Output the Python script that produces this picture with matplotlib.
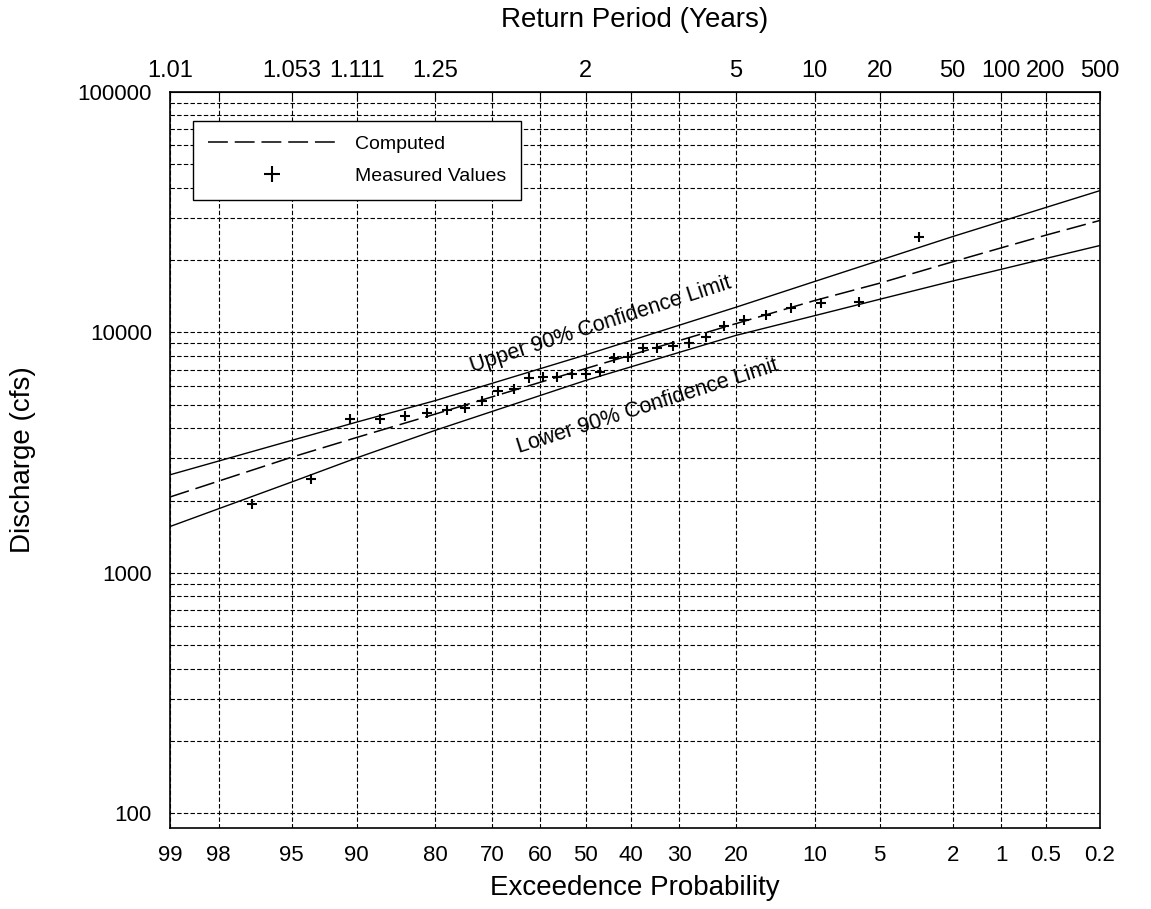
import matplotlib
matplotlib.use('Agg')
import matplotlib.pyplot as plt
import numpy as np
from statistics import NormalDist

plt.rcParams['font.family'] = ['Liberation Sans', 'DejaVu Sans']

# %% data
tick_exc = [99, 98, 95, 90, 80, 70, 60, 50, 40, 30, 20, 10, 5, 2, 1, 0.5, 0.2]
tick_labels = ['99', '98', '95', '90', '80', '70', '60', '50', '40', '30', '20',
               '10', '5', '2', '1', '0.5', '0.2']
period_labels = ['1.01', '', '1.053', '1.111', '1.25', '', '', '2', '', '', '5',
                 '10', '20', '50', '100', '200', '500']

curve_exc = [99, 95, 90, 80, 50, 20, 10, 5, 2, 1, 0.5, 0.2]
computed = [2070, 3030, 3660, 4580, 7080, 10890, 13580, 16030, 19680, 22500, 25400, 29240]
upper = [2560, 3560, 4240, 5210, 8070, 12740, 16300, 19950, 25050, 28970, 33110, 38900]
lower = [1560, 2390, 3010, 3920, 6320, 9730, 11750, 13740, 16370, 18320, 20320, 23000]

meas_exc = [96.9, 93.8, 90.6, 87.5, 84.4, 81.3, 78.1, 75.0, 71.9, 68.8, 65.6, 62.5,
            59.4, 56.3, 53.1, 50.0, 46.9, 43.8, 40.6, 37.5, 34.4, 31.3, 28.1, 25.0,
            21.9, 18.8, 15.6, 12.5, 9.4, 6.3, 3.1]
meas_q = [1930, 2470, 4350, 4380, 4480, 4640, 4780, 4830, 5170, 5690, 5800, 6440,
          6500, 6500, 6690, 6690, 6880, 7870, 7940, 8580, 8660, 8750, 9000, 9620,
          10690, 11320, 11770, 12700, 13200, 13330, 25050]

# %% probability scale: exceedance % -> standard normal quantile
nd = NormalDist()
def z(p):
    return np.array([nd.inv_cdf(1 - v / 100.0) for v in np.atleast_1d(p)])

# %% plot
fig = plt.figure(figsize=(11.51, 9.09), dpi=100)
ax = fig.add_axes([170/1151, 1-828/909, 930/1151, 736/909])

grid_kw = dict(color='black', lw=0.8, ls=(0, (4, 2)), zorder=1)
for v in z(tick_exc):
    ax.axvline(v, **grid_kw)
for dec in [100, 1000, 10000]:
    for m in range(1, 10):
        ax.axhline(dec * m, **grid_kw)

ax.plot(z(curve_exc), computed, color='black', lw=1.1, ls=(0, (13, 4.5)),
        zorder=3, label='Computed')
ax.plot(z(curve_exc), upper, color='black', lw=1.0, zorder=3)
ax.plot(z(curve_exc), lower, color='black', lw=1.0, zorder=3)
ax.plot(z(meas_exc), meas_q, ls='none', marker='+', ms=7, mew=1.5,
        color='black', zorder=4, label='Measured Values')

ax.set_yscale('log')
ax.set_ylim(87, 100000)
ax.set_xlim(z(99)[0], z(0.2)[0])

ax.set_xticks(z(tick_exc), tick_labels)
ax.tick_params(axis='x', which='major', direction='in', length=0, pad=12, labelsize=16)
ax.set_yticks([100, 1000, 10000, 100000], ['100', '1000', '10000', '100000'])
ax.yaxis.set_minor_formatter(matplotlib.ticker.NullFormatter())
ax.tick_params(axis='y', which='both', direction='in', length=0, pad=13, labelsize=16)

top = ax.secondary_xaxis('top')
top.set_xticks(z(tick_exc), period_labels)
top.tick_params(direction='in', length=6, width=0.8, pad=7, labelsize=17)
top.set_xlabel('Return Period (Years)', fontsize=20, labelpad=24)

ax.set_xlabel('Exceedence Probability', fontsize=20, labelpad=7)
ax.set_ylabel('Discharge (cfs)', fontsize=20, labelpad=30)

for s in ax.spines.values():
    s.set_linewidth(1.2)

ax.text(z(73.7)[0], 6820, 'Upper 90% Confidence Limit', rotation=18,
        rotation_mode='anchor', ha='left', va='baseline', fontsize=15.5, zorder=5)
ax.text(z(64.6)[0], 3140, 'Lower 90% Confidence Limit', rotation=17.6,
        rotation_mode='anchor', ha='left', va='baseline', fontsize=15.5, zorder=5)

leg = ax.legend(loc='upper left', bbox_to_anchor=(0.0247, 0.961), borderaxespad=0,
                fontsize=14, handlelength=6.6, handletextpad=1.0, labelspacing=0.75,
                fancybox=False, framealpha=1, edgecolor='black',
                borderpad=0.75, markerscale=1.6)
leg.get_frame().set_linewidth(1.0)

fig.savefig('out.png', dpi=100)
